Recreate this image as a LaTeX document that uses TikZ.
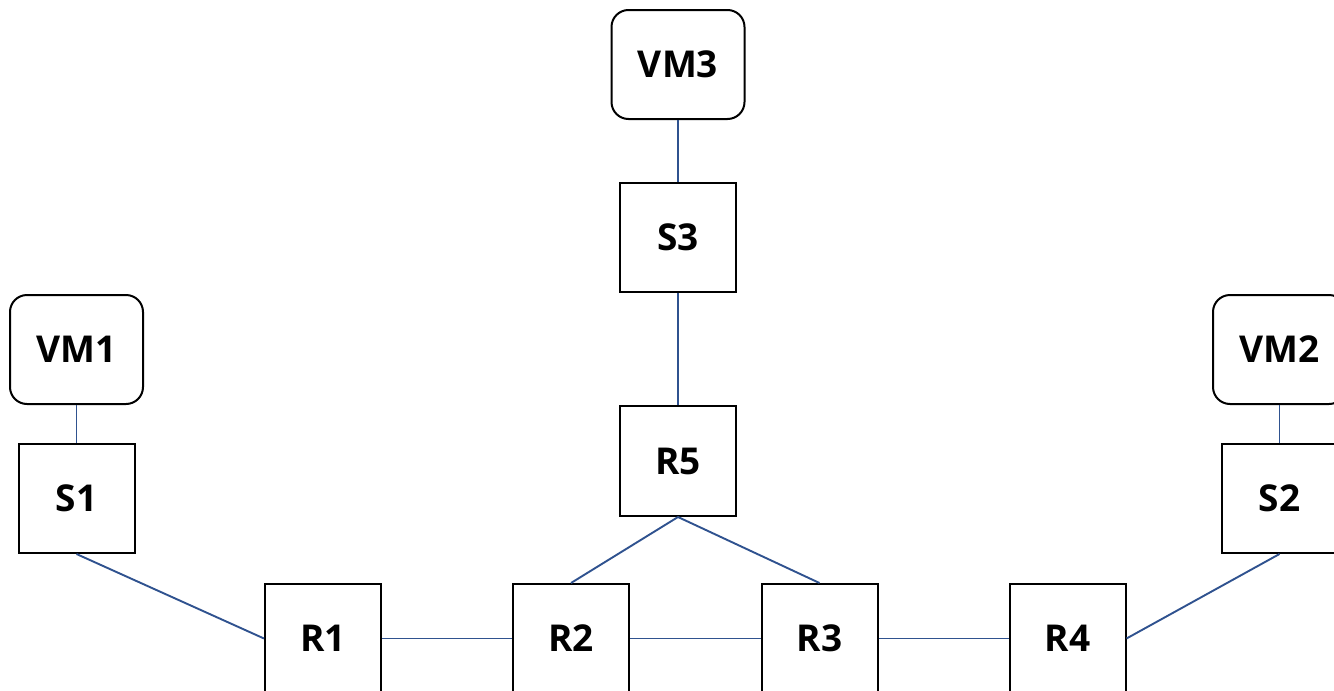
\documentclass[tikz,border=0pt]{standalone}
\usepackage{fontspec}
\setmainfont{Open Sans}
\begin{document}
\begin{tikzpicture}[x=1pt,y=-1pt,
  box/.style={draw=black,line width=2pt,inner sep=0pt,minimum width=116pt,minimum height=109pt,
    font=\fontsize{37}{40}\selectfont\bfseries},
  vm/.style={box,rounded corners=17pt,minimum width=133pt},
  link/.style={draw={rgb,255:red,47;green,82;blue,143},line width=1.9pt}]
\useasboundingbox (0,0) rectangle (1334,691);
\clip (0,0) rectangle (1334,691);
\node[vm]  (VM1) at (76.5,349.5) {VM1};
\node[box] (S1)  at (76.5,498.5) {S1};
\node[vm]  (VM2) at (1279.5,349.5) {VM2};
\node[box] (S2)  at (1279.5,498.5) {S2};
\node[vm]  (VM3) at (678,64.5) {VM3};
\node[box] (S3)  at (678,237.5) {S3};
\node[box,minimum height=110pt] (R5) at (678,461) {R5};
\node[box] (R1) at (323,638.5) {R1};
\node[box] (R2) at (571,638.5) {R2};
\node[box] (R3) at (819.5,638.5) {R3};
\node[box] (R4) at (1067.5,638.5) {R4};
\draw[link] (VM1.south) -- (S1.north);
\draw[link] (VM2.south) -- (S2.north);
\draw[link] (VM3.south) -- (S3.north);
\draw[link] (S3.south) -- (R5.north);
\draw[link] (S1.south) -- (R1.west);
\draw[link] (S2.south) -- (R4.east);
\draw[link] (R5.south) -- (R2.north);
\draw[link] (R5.south) -- (R3.north);
\draw[link] (R1.east) -- (R2.west);
\draw[link] (R2.east) -- (R3.west);
\draw[link] (R3.east) -- (R4.west);
\end{tikzpicture}
\end{document}
